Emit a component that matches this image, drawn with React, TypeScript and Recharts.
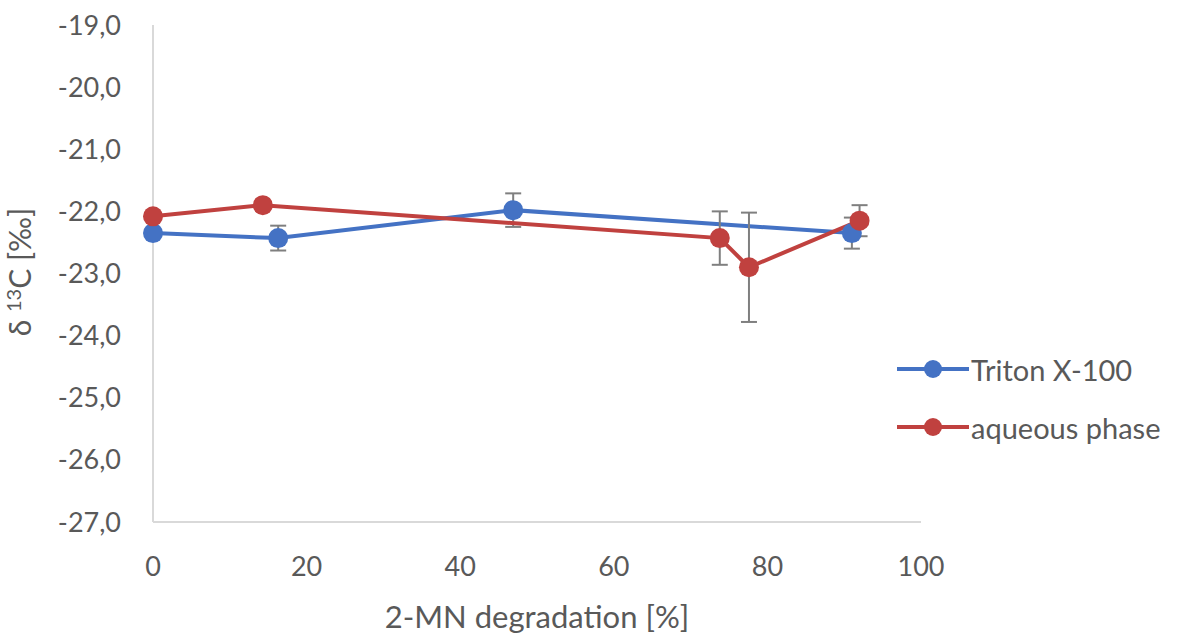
import { LineChart, Line, XAxis, YAxis, ErrorBar, Legend } from "recharts"

const tritonX = [0, 16.3, 46.9, 91.0]
const tritonY = [-22.35, -22.43, -21.98, -22.35]
const tritonErr = [0, 0.2, 0.27, 0.25]

const aqueousX = [0, 14.3, 73.8, 77.6, 92.0]
const aqueousY = [-22.08, -21.9, -22.43, -22.9, -22.15]
const aqueousErr = [0, 0, 0.43, 0.88, 0.25]

const xTicks = [0, 20, 40, 60, 80, 100]
const yTicks = [-27, -26, -25, -24, -23, -22, -21, -20, -19]

const series = [
  { name: "Triton X-100", color: "#4472C4", data: tritonX.map((x, i) => ({ x, y: tritonY[i], err: tritonErr[i] })) },
  { name: "aqueous phase", color: "#C0413F", data: aqueousX.map((x, i) => ({ x, y: aqueousY[i], err: aqueousErr[i] })) },
]

const FONT = "Lato, sans-serif"
const GREY = "#595959"

const YLabel = () => (
  <text x={31} y={272} transform="rotate(-90 31 272)" textAnchor="middle" fill={GREY} fontSize={30} fontFamily={FONT}>
    <tspan>δ </tspan>
    <tspan fontSize={20} dy={-10}>13</tspan>
    <tspan dy={10}>C [‰]</tspan>
  </text>
)

const LegendBox = () => (
  <div style={{ fontFamily: FONT, fontSize: 29, color: GREY }}>
    {series.map((s) => (
      <div key={s.name} style={{ display: "flex", alignItems: "center", height: 58 }}>
        <svg width={78} height={24}>
          <line x1={4} y1={12} x2={76} y2={12} stroke={s.color} strokeWidth={4} />
          <circle cx={40} cy={12} r={9} fill={s.color} />
        </svg>
        <span>{s.name}</span>
      </div>
    ))}
  </div>
)

export default function App() {
  return (
    <div style={{ position: "absolute", left: 0, top: 0, width: 1177, height: 635, background: "#fff" }}>
      <LineChart width={1177} height={635} margin={{ top: 25, right: 256, bottom: 0, left: 0 }}>
        <XAxis
          dataKey="x"
          type="number"
          domain={[0, 100]}
          ticks={xTicks}
          height={113}
          tickLine={false}
          axisLine={{ stroke: "#d9d9d9", strokeWidth: 2 }}
          tick={{ fill: GREY, fontSize: 27, fontFamily: FONT }}
          tickMargin={29}
          allowDuplicatedCategory={false}
          label={{ value: "2-MN degradation [%]", position: "insideBottom", offset: 7, fill: GREY, fontSize: 31, fontFamily: FONT }}
        />
        <YAxis
          dataKey="y"
          type="number"
          width={153}
          domain={[-27, -19]}
          ticks={yTicks}
          tickLine={false}
          axisLine={{ stroke: "#d9d9d9", strokeWidth: 2 }}
          tick={{ fill: GREY, fontSize: 27, fontFamily: FONT }}
          tickMargin={26}
          tickFormatter={(v: number) => v.toFixed(1).replace(".", ",")}
          label={<YLabel />}
        />
        <Legend
          layout="vertical"
          align="center"
          verticalAlign="middle"
          content={<LegendBox />}
          wrapperStyle={{ left: 893, top: 340, width: 284 }}
        />
        {series.map((s) => (
          <Line
            key={s.name}
            data={s.data}
            dataKey="y"
            name={s.name}
            stroke={s.color}
            strokeWidth={4}
            dot={{ r: 10, fill: s.color, stroke: s.color, strokeWidth: 0 }}
            activeDot={false}
            isAnimationActive={false}
          >
            <ErrorBar dataKey="err" direction="y" width={8} stroke="#7f7f7f" strokeWidth={2} />
          </Line>
        ))}
      </LineChart>
    </div>
  )
}
